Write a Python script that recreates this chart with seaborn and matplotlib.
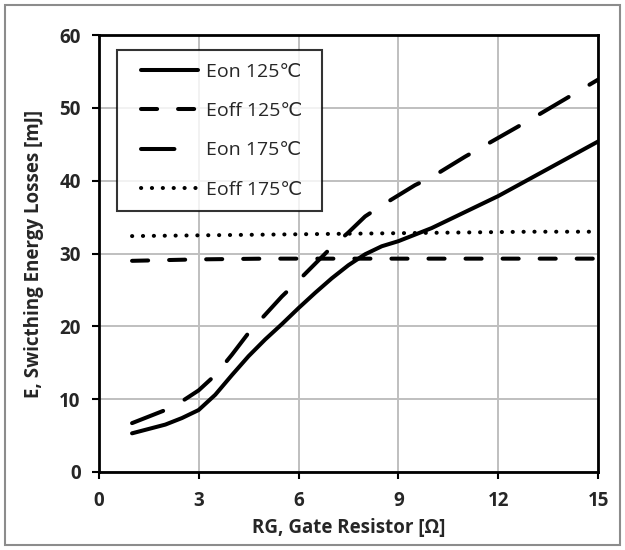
import matplotlib
matplotlib.use("Agg")
import matplotlib.pyplot as plt
import matplotlib.patches as mpatches
from matplotlib.lines import Line2D
from matplotlib.legend_handler import HandlerLine2D
import seaborn as sns
import pandas as pd

rg_a = [1, 1.5, 2, 2.5, 3, 3.5, 4, 4.5, 5, 5.5, 6, 6.5, 7, 7.5, 8, 8.5, 9, 9.5, 10, 11, 12, 13, 14, 15]
eon_125 = [5.3, 5.9, 6.5, 7.4, 8.5, 10.6, 13.3, 15.9, 18.2, 20.3, 22.5, 24.6, 26.6, 28.4, 29.9, 31.0, 31.7,
           32.6, 33.5, 35.7, 37.9, 40.4, 42.9, 45.4]
eon_175 = [6.7, 7.6, 8.5, 9.7, 11.2, 13.3, 16.1, 19.1, 21.6, 24.1, 26.3, 28.6, 30.9, 32.9, 35.1, 36.6, 38.0,
           39.4, 40.5, 43.3, 45.9, 48.5, 51.2, 53.9]
rg_b = [1, 3, 5, 7, 9, 11, 13, 15]
eoff_125 = [29.0, 29.2, 29.3, 29.3, 29.3, 29.3, 29.3, 29.3]
eoff_175 = [32.4, 32.5, 32.6, 32.7, 32.8, 32.9, 33.0, 33.0]
series_names = ["Eon 125\u2103", "Eoff 125\u2103", "Eon 175\u2103", "Eoff 175\u2103"]

x_ticks = [0, 3, 6, 9, 12, 15]
y_ticks = [0, 10, 20, 30, 40, 50, 60]

rows = []
for name, xs, vals in zip(series_names, [rg_a, rg_b, rg_a, rg_b],
                          [eon_125, eoff_125, eon_175, eoff_175]):
    for x, y in zip(xs, vals):
        rows.append({"RG": x, "E": y, "Series": name})
df = pd.DataFrame(rows)

sns.set_theme(style="white")
plt.rcParams["font.family"] = ["Open Sans", "DejaVu Sans"]
plt.rcParams["lines.dash_capstyle"] = "round"
plt.rcParams["lines.solid_capstyle"] = "round"
plt.rcParams["lines.solid_joinstyle"] = "round"

fig = plt.figure(figsize=(6.25, 5.5), dpi=100)
ax = fig.add_axes([0.158, 0.142, 0.799, 0.794])

LW = 2.9
dashes = {
    series_names[0]: "",
    series_names[1]: (4.0, 5.2),
    series_names[2]: (8.3, 6.0),
    series_names[3]: (0.05, 2.65),
}
sns.lineplot(data=df, x="RG", y="E", hue="Series", style="Series",
             palette=["black"] * 4, dashes=dashes, linewidth=LW,
             ax=ax, legend=False, sort=False)

ax.set_xlim(0, 15)
ax.set_ylim(0, 60)
ax.set_xticks(x_ticks)
ax.set_yticks(y_ticks)
ax.set_xticklabels([str(t) for t in x_ticks], fontweight="bold", fontsize=13.5)
ax.set_yticklabels([str(t) for t in y_ticks], fontweight="bold", fontsize=13.5)
ax.grid(True, color="#BFBFBF", linewidth=1.4)
ax.set_axisbelow(True)
for s in ax.spines.values():
    s.set_color("black")
    s.set_linewidth(2.0)
ax.tick_params(axis="y", direction="out", length=5, width=1.5, color="black",
               left=True, pad=8)
ax.tick_params(axis="x", direction="out", length=5, width=1.5, color="black",
               bottom=True, pad=8.5)
ax.set_xlabel("RG, Gate Resistor [\u03a9]", fontweight="bold", fontsize=13.5, labelpad=5)
ax.set_ylabel("E, Swicthing Energy Losses [mJ]", fontweight="bold", fontsize=13.5, labelpad=11)

handles = []
for name in series_names:
    d = dashes[name]
    ls = "-" if d == "" else (0, d)
    handles.append(Line2D([], [], color="black", linewidth=LW, linestyle=ls))
leg = ax.legend(handles, series_names, loc="upper left",
                bbox_to_anchor=(0.036, 0.5, 0.411, 0.466), mode="expand",
                frameon=True, fancybox=False,
                edgecolor="black", fontsize=14, handlelength=3.55,
                labelspacing=1.1, borderpad=0.65, handletextpad=0.4,
                borderaxespad=0,
                handler_map={Line2D: HandlerLine2D(xpad=0.6)})
leg.get_frame().set_linewidth(1.5)

fig.patches.append(mpatches.Rectangle((0.008, 0.009), 0.984, 0.982,
                                      transform=fig.transFigure, fill=False,
                                      edgecolor="#8C8C8C", linewidth=1.5))

fig.savefig("out.png", dpi=100)
